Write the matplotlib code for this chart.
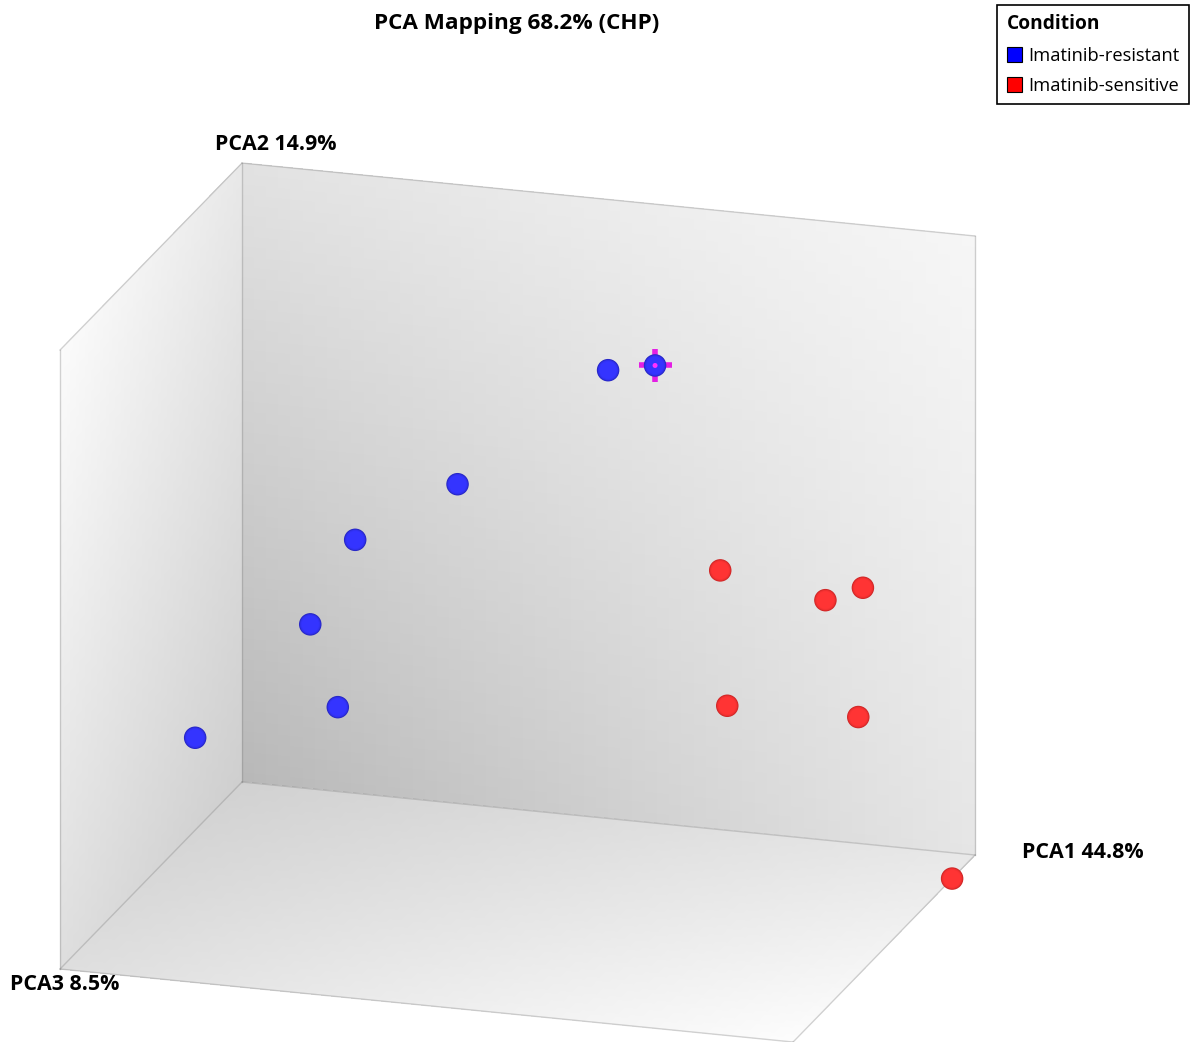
import numpy as np
import matplotlib
matplotlib.use("Agg")
import matplotlib.pyplot as plt
from matplotlib.patches import Patch
from matplotlib.colors import to_rgb
from mpl_toolkits.mplot3d import proj3d

plt.rcParams['font.family'] = ['Open Sans', 'DejaVu Sans']

# PCA scores per sample (first 7 resistant, last 6 sensitive)
conditions = ["Imatinib-resistant"] * 7 + ["Imatinib-sensitive"] * 6
pc1 = [10.0, 18.0, -9.6, -17.7, -28.8, -17.6, -43.6, 19.3, 37.8, 35.7, 29.1, 39.6, 45.0]
pc2 = [22.4, 25.3, 8.9, 6.5, -7.1, -7.9, -19.8, 0.1, 3.2, -1.2, -5.0, -9.8, -30.0]
pc3 = [-2.5, 2.5, -5.0, 5.0, -7.5, 10.0, -9.0, -12.5, 0.0, -15.0, 7.5, -5.0, -18.7]
selected = 1  # sample marked with the crosshair

pc1_lim = (-45, 45)
pc2_lim = (-30, 30)
pc3_lim = (-25, 25)

var_pc1, var_pc2, var_pc3 = 44.8, 14.9, 8.5

legend_colors = {"Imatinib-resistant": "#0000ff", "Imatinib-sensitive": "#ff0000"}
sphere_colors = {"Imatinib-resistant": ("#2020a8", "#3434ff"),
                 "Imatinib-sensitive": ("#b82020", "#ff3434")}

W, H = 1190, 1042
fig = plt.figure(figsize=(W / 100, H / 100), dpi=100)
ax = fig.add_axes([0, 0, 1, 1], projection='3d', proj_type='ortho')
ax.computed_zorder = False

# x = PCA3 (towards viewer), y = PCA1 (right), z = PCA2 (up)
ax.set_xlim(pc3_lim)
ax.set_ylim(pc1_lim)
ax.set_zlim(pc2_lim)
ax.set_box_aspect((612.2, 767.7, 653.3))
ax.view_init(elev=18.66, azim=17.29, roll=0)
ax.set_axis_off()


def bilinear(a, b, c00, c10, c01, c11):
    return c00 * (1 - a) * (1 - b) + c10 * a * (1 - b) + c01 * (1 - a) * b + c11 * a * b


# gradient panes: back wall, left wall, floor
n = 60
t = np.linspace(0, 1, n + 1)
A, B = np.meshgrid(t, t, indexing='ij')
tc = (t[:-1] + t[1:]) / 2
Ac, Bc = np.meshgrid(tc, tc, indexing='ij')


def grey(g):
    out = np.empty(g.shape + (4,))
    out[..., 0] = g
    out[..., 1] = g
    out[..., 2] = g
    out[..., 3] = 1.0
    return out


x0, x1 = pc3_lim
y0, y1 = pc1_lim
z0, z1 = pc2_lim

# back wall (PCA3 = min): a along PCA1, b along PCA2
g = bilinear(Ac, Bc, 0.72, 0.90, 0.885, 0.965)
ax.plot_surface(np.full_like(A, x0), y0 + A * (y1 - y0), z0 + B * (z1 - z0),
                facecolors=grey(g), shade=False, rstride=1, cstride=1,
                linewidth=0, antialiased=False, zorder=0)
# left wall (PCA1 = min): a along PCA3, b along PCA2
g = bilinear(Ac, Bc, 0.81, 0.87, 0.91, 0.985)
ax.plot_surface(x0 + A * (x1 - x0), np.full_like(A, y0), z0 + B * (z1 - z0),
                facecolors=grey(g), shade=False, rstride=1, cstride=1,
                linewidth=0, antialiased=False, zorder=0)
# floor (PCA2 = min): a along PCA1, b along PCA3
g = bilinear(Ac, Bc, 0.82, 0.91, 0.87, 0.99)
ax.plot_surface(x0 + B * (x1 - x0), y0 + A * (y1 - y0), np.full_like(A, z0),
                facecolors=grey(g), shade=False, rstride=1, cstride=1,
                linewidth=0, antialiased=False, zorder=0)

# box edges
edges = [
    ((x0, x0), (y0, y0), (z0, z1)),
    ((x0, x0), (y0, y1), (z1, z1)),
    ((x0, x0), (y1, y1), (z0, z1)),
    ((x0, x0), (y0, y1), (z0, z0)),
    ((x0, x1), (y0, y0), (z1, z1)),
    ((x1, x1), (y0, y0), (z0, z1)),
    ((x0, x1), (y0, y0), (z0, z0)),
    ((x1, x1), (y0, y1), (z0, z0)),
    ((x0, x1), (y1, y1), (z0, z0)),
]
for ex, ey, ez in edges:
    ax.plot(ex, ey, ez, color=(0.45, 0.45, 0.45, 0.3), lw=1.0, zorder=1)

pc1 = np.array(pc1)
pc2 = np.array(pc2)
pc3 = np.array(pc3)
cond = np.array(conditions)

# crosshair behind the selected sample
ax.scatter([pc3[selected]], [pc1[selected]], [pc2[selected]], marker='+',
           s=(33 * 0.72) ** 2, linewidths=4.0, color='#e41ee4',
           depthshade=False, zorder=2)

# shaded spheres built from concentric layers
diams = [22.5, 21, 19.5, 17.5]
mix = [0.3, 0.65, 0.88, 1.0]
for label, (rim, face) in sphere_colors.items():
    m = cond == label
    r, f = np.array(to_rgb(rim)), np.array(to_rgb(face))
    for k, (d, w) in enumerate(zip(diams, mix)):
        ax.scatter(pc3[m], pc1[m], pc2[m], s=(d * 0.72) ** 2,
                   color=tuple(r * (1 - w) + f * w), edgecolors='none',
                   depthshade=False, zorder=3 + k)

ax.scatter([pc3[selected]], [pc1[selected]], [pc2[selected]], marker='o',
           s=(5 * 0.72) ** 2, color='#ff30ff', edgecolors='none',
           depthshade=False, zorder=8)

# place the axes so the box frame sits where wanted
fig.canvas.draw()
M = ax.get_proj()
cx = np.array([x0, x0, x0, x0, x1, x1, x1, x1])
cy = np.array([y0, y0, y1, y1, y0, y0, y1, y1])
cz = np.array([z0, z1, z0, z1, z0, z1, z0, z1])
px, py, _ = proj3d.proj_transform(cx, cy, cz, M)
pix = ax.transData.transform(np.column_stack([px, py]))
frame_width = 915.0
anchor = (242.0, H - 782.0)  # back-bottom-left corner
s = frame_width / (pix[:, 0].max() - pix[:, 0].min())
bb = ax.get_position()
bx0, by0, bw, bh = bb.x0 * W, bb.y0 * H, bb.width * W, bb.height * H
nx0 = anchor[0] - s * (pix[0, 0] - bx0)
ny0 = anchor[1] - s * (pix[0, 1] - by0)
ax.set_position([nx0 / W, ny0 / H, s * bw / W, s * bh / H])

# labels
fig.text(517 / W, 1 - 23 / H, f"PCA Mapping {var_pc1 + var_pc2 + var_pc3:.1f}% (CHP)",
         ha='center', va='center', fontsize=16.2, weight='bold')
fig.text(215 / W, 1 - 144 / H, f"PCA2 {var_pc2}%", ha='left', va='center',
         fontsize=15.4, weight='bold')
fig.text(1022 / W, 1 - 852 / H, f"PCA1 {var_pc1}%", ha='left', va='center',
         fontsize=15.4, weight='bold')
fig.text(10 / W, 1 - 985 / H, f"PCA3 {var_pc3}%", ha='left', va='center',
         fontsize=15.4, weight='bold')

handles = [Patch(facecolor=c, edgecolor='black', lw=0.8, label=k)
           for k, c in legend_colors.items()]
leg = fig.legend(handles=handles, title='Condition', loc='upper right',
                 bbox_to_anchor=(1 - 1 / W, 1 - 5 / H), bbox_transform=fig.transFigure,
                 fontsize=13.2, title_fontproperties={'weight': 'bold', 'size': 13.8},
                 alignment='left', frameon=True, fancybox=False, edgecolor='black',
                 framealpha=1, borderpad=0.5, handlelength=0.85, handleheight=0.85,
                 handletextpad=0.35, labelspacing=0.68, borderaxespad=0)
leg.get_frame().set_linewidth(1.2)

fig.savefig('out.png', dpi=100)
